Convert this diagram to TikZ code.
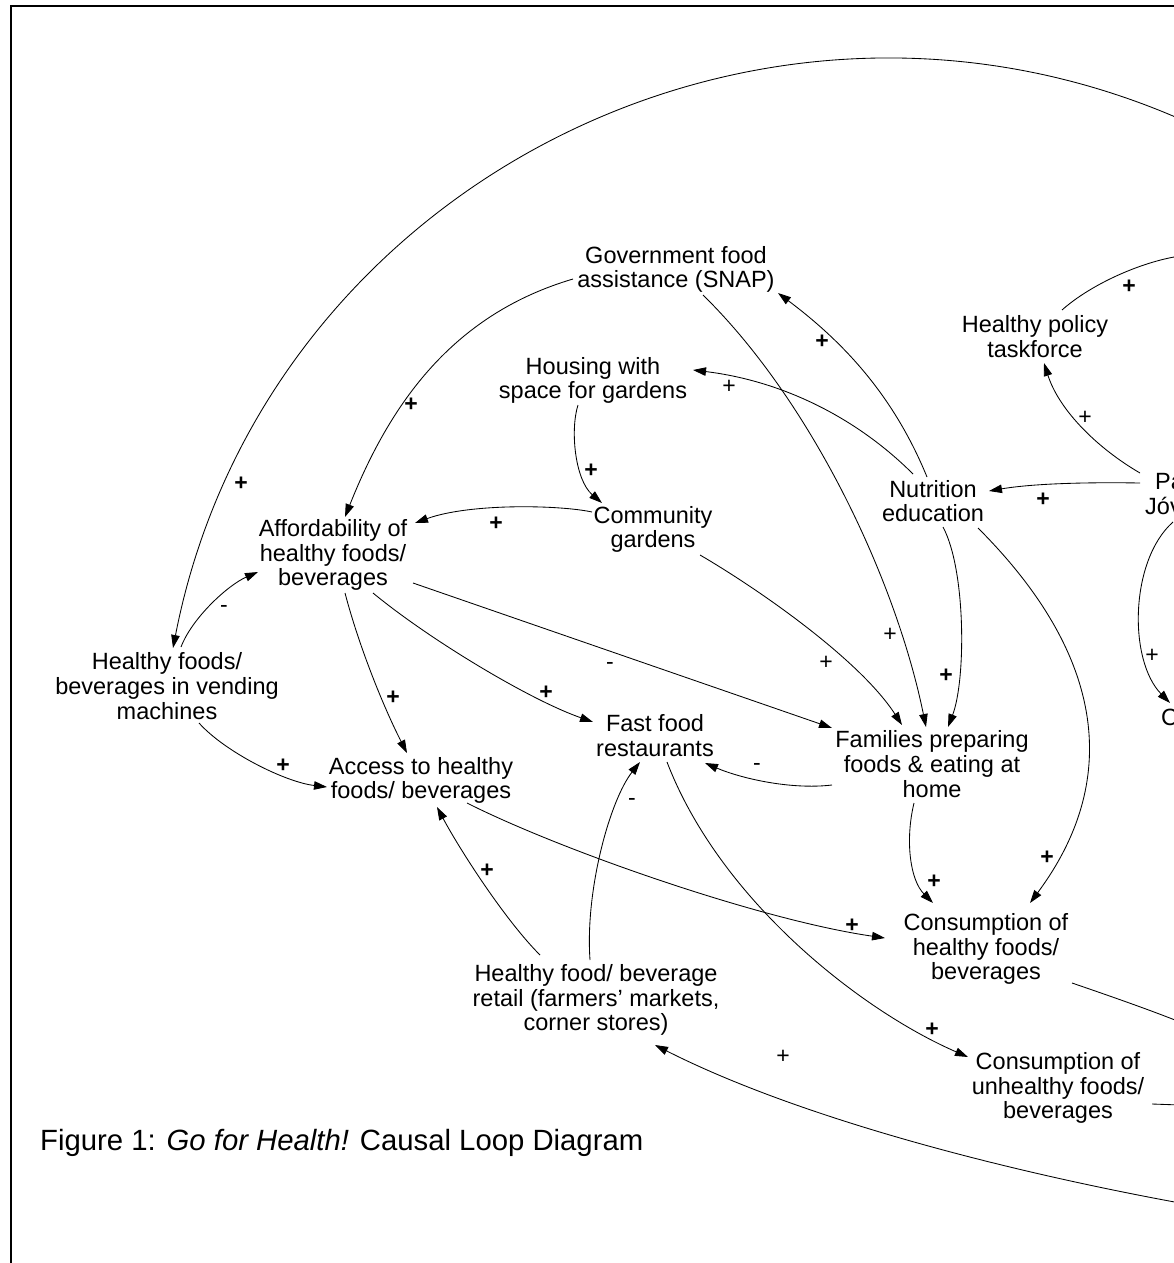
\documentclass[tikz,border=0pt]{standalone}
\usepackage{fontspec}
\setmainfont{Liberation Sans}
\usetikzlibrary{arrows.meta,calc}
\begin{document}
\begin{tikzpicture}[x=1pt,y=-1pt,
  var/.style={align=center,inner sep=0pt,font=\fontsize{23.5}{24.6}\selectfont},
  link/.style={line width=0.85pt,-{Triangle[length=13pt,width=8.5pt]}},
  plainlink/.style={line width=0.85pt},
  plusb/.style={inner sep=0pt,font=\fontsize{23}{23}\selectfont\bfseries},
  plusn/.style={inner sep=0pt,font=\fontsize{23}{23}\selectfont},
  minus/.style={inner sep=0pt,font=\fontsize{23}{23}\selectfont}]
\useasboundingbox (0,0) rectangle (1174,1263);
\clip (0,0) rectangle (1174,1263);
\fill[white] (0,0) rectangle (1174,1263);
% frame
\draw[line width=2.5pt] (11,6) rectangle (1400,1400);

% variables
\node[var] (gov)  at (676,269.5) {Government food\\assistance (SNAP)};
\node[var] (hous) at (593,380.5) {Housing with\\space for gardens};
\node[var] (hpt)  at (1035,336.5) {Healthy policy\\taskforce};
\node[var] (nutr) at (933,501) {Nutrition\\education};
\node[var,align=left,anchor=west] (park) at (1145,494) {\hspace*{10pt}Pa\\Jóv};
\node[var,anchor=west] (cnode) at (1161,717) {C};
\node[var] (aff)  at (333,555) {Affordability of\\healthy foods/\\beverages};
\node[var] (cg)   at (653,529.5) {Community\\gardens};
\node[var] (vend) at (167,686) {Healthy foods/\\beverages in vending\\machines};
\node[var] (acc)  at (421,780.5) {Access to healthy\\foods/ beverages};
\node[var] (ff)   at (655,735.5) {Fast food\\restaurants};
\node[var] (fam)  at (932,764) {Families preparing\\foods \& eating at\\home};
\node[var] (ch)   at (986,949) {Consumption of\\healthy foods/\\beverages};
\node[var] (cu)   at (1058,1088) {Consumption of\\unhealthy foods/\\beverages};
\node[var] (ret)  at (596,1000) {Healthy food/ beverage\\retail (farmers' markets,\\corner stores)};

% loose ends running past the right edge
\coordinate (rtop) at (1180,119);
\coordinate (rhpt) at (1180,256);
\coordinate (rch)  at (1180,1022);
\coordinate (rcu)  at (1180,1105);
\coordinate (rbot) at (1180,1203);

% links
\draw[link] (rtop) .. controls (753,-67) and (262,191) .. ($(vend)+(6,-38)$);
\draw[link] ($(vend)+(14,-39)$) .. controls (192,618) and (228,585) .. ($(aff)+(-75,17)$);
\draw[link] ($(vend)+(32,37)$) .. controls (225,752) and (285,782) .. ($(acc)+(-94,6.5)$);
\draw[link] ($(gov)+(-103,9.5)$) .. controls (458,313) and (393,396) .. ($(aff)+(12,-38)$);
\draw[link] ($(gov)+(27,25.5)$) .. controls (812,402) and (896,580) .. ($(fam)+(-6,-37)$);
\draw[link] ($(nutr)+(-6,-24)$) .. controls (893,394) and (842,341) .. ($(gov)+(102,23.5)$);
\draw[link] ($(nutr)+(-20,-27)$) .. controls (857,418) and (783,381) .. ($(hous)+(100,-10.5)$);
\draw[link] ($(nutr)+(10,26)$) .. controls (966,570) and (966,680) .. ($(fam)+(16,-37)$);
\draw[link] ($(nutr)+(45,27)$) .. controls (1100,650) and (1125,775) .. ($(ch)+(44,-46)$);
\draw[link] ($(park.west)+(-5,-11)$) .. controls (1080,482) and (1030,484) .. ($(nutr)+(56,-10)$);
\draw[link] ($(park.west)+(-5,-21)$) .. controls (1097,448) and (1059,410) .. ($(hpt)+(9,26.5)$);
\draw[plainlink] ($(hpt)+(27,-26.5)$) .. controls (1090,285) and (1140,262) .. (rhpt);
\draw[link] ($(park.west)+(28,28)$) .. controls (1130,560) and (1128,660) .. ($(cnode.west)+(9,-14)$);
\draw[link] ($(hous)+(-15,24.5)$) .. controls (570,430) and (575,480) .. ($(cg)+(-51,-26.5)$);
\draw[link] ($(cg)+(-61,-17.5)$) .. controls (560,505) and (470,503) .. ($(aff)+(82,-32)$);
\draw[link] ($(cg)+(47,25.5)$) .. controls (760,590) and (860,660) .. ($(fam)+(-30,-39)$);
\draw[link] ($(aff)+(80,28)$) -- ($(fam)+(-100,-36)$);
\draw[link] ($(aff)+(40,38)$) .. controls (430,640) and (530,700) .. ($(ff)+(-62,-13.5)$);
\draw[link] ($(aff)+(12,38)$) .. controls (360,650) and (385,710) .. ($(acc)+(-14,-27.5)$);
\draw[link] ($(acc)+(46,22.5)$) .. controls (560,850) and (760,920) .. ($(ch)+(-101,-11)$);
\draw[link] ($(ret)+(-56,-45)$) .. controls (505,920) and (460,850) .. ($(acc)+(16,26.5)$);
\draw[link] ($(ret)+(-6,-40)$) .. controls (585,890) and (610,800) .. ($(ff)+(-15,26.5)$);
\draw[link] ($(ff)+(12,26.5)$) .. controls (720,900) and (860,1010) .. ($(cu)+(-90,-31)$);
\draw[link] ($(fam)+(-100,21)$) .. controls (790,790) and (740,778) .. ($(ff)+(50,27.5)$);
\draw[link] ($(fam)+(-18,39)$) .. controls (905,840) and (910,880) .. ($(ch)+(-53,-46)$);
\draw[plainlink] ($(ch)+(86,34)$) .. controls (1110,996) and (1150,1010) .. (rch);
\draw[plainlink] ($(cu)+(94,16)$) -- (rcu);
\draw[link] (rbot) .. controls (984,1167) and (789,1113) .. ($(ret)+(59,45)$);

% polarities
\node[plusb] (p1)  at (1129,287) {+};
\node[plusb] (p2)  at (822,342) {+};
\node[plusb] (p3)  at (411,405) {+};
\node[plusb] (p4)  at (591,471) {+};
\node[plusb] (p5)  at (496,524) {+};
\node[plusb] (p6)  at (241,484) {+};
\node[plusb] (p7)  at (393,698) {+};
\node[plusb] (p8)  at (546,693) {+};
\node[plusb] (p9)  at (283,766) {+};
\node[plusb] (p10) at (946,676) {+};
\node[plusb] (p11) at (1043,500) {+};
\node[plusb] (p12) at (1047,858) {+};
\node[plusb] (p13) at (934,882) {+};
\node[plusb] (p14) at (852,926) {+};
\node[plusb] (p15) at (487,871) {+};
\node[plusb] (p16) at (932,1030) {+};
\node[plusn] (n1) at (729,387) {+};
\node[plusn] (n2) at (1085,418) {+};
\node[plusn] (n3) at (1152,656) {+};
\node[plusn] (n4) at (890,635) {+};
\node[plusn] (n5) at (826,663) {+};
\node[plusn] (n6) at (783,1057) {+};
\node[minus] (m1) at (224,609) {-};
\node[minus] (m2) at (610,666) {-};
\node[minus] (m3) at (757,767) {-};
\node[minus] (m4) at (632,802) {-};

% caption
\node[anchor=west,inner sep=0pt,font=\fontsize{29.3}{30}\selectfont] (cap) at (40,1143)
  {Figure 1: \textit{Go for Health!} Causal Loop Diagram};
\end{tikzpicture}
\end{document}
